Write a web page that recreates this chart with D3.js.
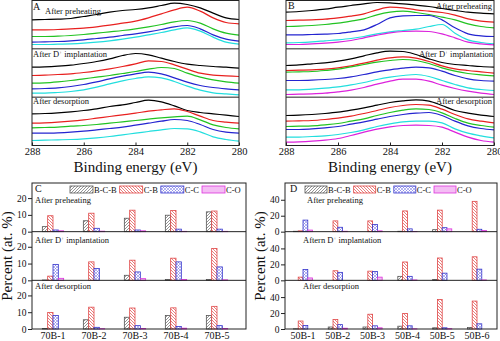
<!DOCTYPE html>
<html><head><meta charset="utf-8">
<script src="https://cdn.jsdelivr.net/npm/d3@7"></script>
<style>
body{margin:0;background:#fff}
svg{display:block}
svg text{font-family:'Liberation Serif','Times New Roman',serif;fill:#111}
</style>
</head><body>
<svg id="chart" width="500" height="341"></svg>
<script>
// ---------------- DATA ----------------
const energies = [288,287.5,287,286.5,286,285.5,285,284.5,284,283.5,283,282.5,282,281.5,281,280.5,280];
const energyTicks = [288,286,284,282,280];
const stageLabels = ["After preheating","After D+ implantation","After desorption"];
const stageLabelsD = ["After preheating","Aftern D+ implantation","After desorption"];

const colorsA = ["#000000","#e8201f","#22c322","#2424d0","#22dede"];
const colorsB = ["#000000","#e8201f","#22c322","#2424d0","#22dede","#dc22dc"];

// Panel A C1s spectra (intensity, a.u.), curves black, red, green, blue, cyan
const A_preheat = [
 [87,88,89,91,97,103,110,115,118,123,130,137,133,123,107,93,88],
 [57,57,58,60,62,66,71,77,83,93,105,117,125,113,93,79,75],
 [37,37,38,40,43,47,51,55,60,66,73,81,85,77,60,47,41],
 [20,21,22,24,27,31,35,40,45,51,58,66,70,60,42,29,23],
 [13,13,14,15,17,20,24,29,35,42,49,57,63,53,35,20,14]
];
const A_implant = [
 [90,91,93,96,101,107,115,125,131,127,117,107,99,95,92,90,87],
 [65,66,68,70,74,79,85,92,100,109,107,97,84,72,66,64,62],
 [42,43,46,50,55,60,65,71,77,84,89,86,72,60,52,46,42],
 [25,26,28,32,38,46,55,63,70,75,70,58,45,35,29,25,22],
 [12,12,14,17,22,30,40,49,56,61,58,47,33,21,13,10,7]
];
const A_desorb = [
 [95,96,98,101,105,110,117,122,129,136,131,119,105,99,95,91,87],
 [67,68,70,73,77,82,87,92,97,103,107,110,102,88,75,70,67],
 [53,54,55,58,60,63,67,71,75,79,83,86,88,77,62,54,50],
 [37,37,38,40,43,47,51,55,61,67,73,78,75,63,48,40,37],
 [15,16,17,18,20,23,27,32,37,42,47,51,50,41,26,18,13]
];
// Panel B spectra: black, red, green, blue, cyan, magenta
const B_preheat = [
 [110,112,115,119,125,130,135,139,138,135,131,127,121,115,110,107,105],
 [85,86,87,89,93,98,105,117,125,123,117,113,109,101,90,83,80],
 [67,68,70,73,77,83,90,102,110,113,109,103,95,87,75,67,63],
 [42,42,43,44,46,51,57,73,93,99,100,100,87,63,45,39,37],
 [18,19,21,24,27,31,37,45,51,55,59,67,73,47,27,19,15],
 [13,13,15,17,20,25,33,41,48,52,53,52,45,33,20,15,12]
];
const B_implant = [
 [95,97,100,103,108,115,124,133,138,137,128,115,104,98,95,92,90],
 [80,81,82,84,88,94,102,111,118,121,117,107,94,85,80,76,72],
 [75,76,77,80,84,91,98,105,110,113,110,101,88,78,71,67,64],
 [50,50,51,53,56,61,68,76,82,87,90,88,78,65,55,50,48],
 [22,22,24,27,31,37,44,53,60,65,68,62,50,38,28,23,20],
 [8,9,10,12,16,21,29,39,48,54,54,48,36,26,18,12,8]
];
const B_desorb = [
 [90,91,93,96,100,106,113,121,129,134,137,133,120,105,97,91,87],
 [73,74,75,78,82,88,96,105,114,120,123,121,109,93,80,73,68],
 [57,58,59,62,66,73,80,90,99,106,110,108,98,81,67,60,55],
 [48,48,50,53,57,64,71,79,87,93,97,99,90,73,59,51,47],
 [25,25,27,29,33,39,47,57,65,71,73,73,68,50,37,29,23],
 [10,11,13,16,21,30,40,49,56,60,61,60,55,40,25,15,10]
];

// Bar charts: series order B-C-B, C-B, C-C, C-O
const seriesNames = ["B-C-B","C-B","C-C","C-O"];
const catsC = ["70B-1","70B-2","70B-3","70B-4","70B-5"];
const catsD = ["50B-1","50B-2","50B-3","50B-4","50B-5","50B-6"];
const C_preheat = [
 [3,6.5,8,9.8,11.8],
 [9.5,11,12.8,12.6,12.3],
 [1,2,1,1.5,1.5],
 [0.5,0.3,0.5,0.2,0.2]
];
const C_implant = [
 [0.2,0,3,0.5,0.5],
 [2.5,11,12,13.2,19],
 [9.5,7,5,11,8],
 [1.2,0,1,0.5,0.3]
];
const C_desorb = [
 [0.3,5.5,7,8,8],
 [9.8,13,12.5,12.6,13.5],
 [8,1,2,1.5,2],
 [0,0.2,0.3,0.5,0.3]
];
const D_preheat = [
 [0.5,0,0,0.5,2.5,0],
 [1,13.5,13.5,26,27,38],
 [14.5,5.5,9,3.5,5,3],
 [2,0.5,1,0.3,3.5,1.5]
];
const D_implant = [
 [0,0,0,5,1,0],
 [4,12,11.5,23,28,29.5],
 [13.5,10,11,5,9,14],
 [3,0,4,0.5,0,0.5]
];
const D_desorb = [
 [0.3,2.5,2.5,3.5,1.5,2],
 [10,12,18.5,19.5,37,35],
 [4.5,5.5,4,4,1.5,6.5],
 [0,1,1.5,0.3,0.5,0]
];
const ticksC = [0,10,20];
const ticksD = [0,20,40];

// ---------------- DRAW ----------------
const FONT = "'Liberation Serif','Times New Roman',serif";
const svg = d3.select("#chart");
const defs = svg.append("defs");
const seriesStroke = ["#555555","#e04848","#3434cc","#dd33dd"];
function pat(id, size, d, color, sw){
  const p = defs.append("pattern").attr("id",id).attr("patternUnits","userSpaceOnUse")
    .attr("width",size).attr("height",size);
  p.append("rect").attr("width",size).attr("height",size).attr("fill","#fff");
  p.append("path").attr("d",d).attr("stroke",color).attr("stroke-width",sw).attr("fill","none");
}
pat("pat0",3,"M-1,1 L1,-1 M0,3 L3,0 M2,4 L4,2","#666",0.7);
pat("pat1",3,"M0,0 L3,3 M-1,2 L1,4 M2,-1 L4,1","#e04848",0.7);
pat("pat2",3,"M0,0 L3,3 M0,3 L3,0","#5a5ae0",0.45);
pat("pat3",2,"M0,1 H2","#e040e0",0.7);

function stageText(g, x, y, str, anchor, fs){
  const t = g.append("text").attr("x",x).attr("y",y).attr("text-anchor",anchor||"start")
    .style("font-size",(fs||8.5)+"px").style("font-family",FONT);
  const parts = str.split("D+");
  if(parts.length===2){
    t.append("tspan").text(parts[0]+"D");
    t.append("tspan").text("+").attr("dy",-3).style("font-size","5px");
    t.append("tspan").text(parts[1]).attr("dy",3);
  } else t.text(str);
  return t;
}

function spectraPanel(opt){
  const g = svg.append("g");
  const x = d3.scaleLinear().domain([288,280]).range([opt.x0,opt.x1]);
  const h = (opt.y1-opt.y0)/3;
  opt.groups.forEach((curves,i)=>{
    const y = d3.scaleLinear().domain([0,145]).range([opt.y0+h*(i+1), opt.y0+h*i]);
    const line = d3.line().x((d,j)=>x(energies[j])).y(d=>y(d)).curve(d3.curveMonotoneX);
    curves.forEach((vals,k)=>{
      g.append("path").attr("d",line(vals)).attr("fill","none")
        .attr("stroke",opt.colors[k]).attr("stroke-width",1.2);
    });
    if(i>0) g.append("line").attr("x1",opt.x0).attr("x2",opt.x1)
      .attr("y1",opt.y0+h*i).attr("y2",opt.y0+h*i).attr("stroke","#222").attr("stroke-width",1);
  });
  g.append("rect").attr("x",opt.x0).attr("y",opt.y0).attr("width",opt.x1-opt.x0)
    .attr("height",opt.y1-opt.y0).attr("fill","none").attr("stroke","#222").attr("stroke-width",1);
  const ax = g.append("g").attr("transform",`translate(0,${opt.y1})`)
    .call(d3.axisBottom(x).tickValues(energyTicks).tickSize(-3).tickSizeOuter(0).tickPadding(2).tickFormat(d3.format("d")));
  ax.attr("font-family",null);
  ax.select(".domain").remove();
  ax.selectAll("text").style("font-size","10.5px").style("font-family",FONT);
  ax.selectAll("line").attr("stroke","#222");
  g.append("text").attr("x",(opt.x0+opt.x1)/2).attr("y",opt.y1+26).attr("text-anchor","middle")
    .style("font-size","15px").style("font-family",FONT).text("Binding energy (eV)");
  return {g,h};
}

// Panel A
const pA = spectraPanel({x0:32,x1:239,y0:0.5,y1:145.5,groups:[A_preheat,A_implant,A_desorb],colors:colorsA});
pA.g.append("text").attr("x",33).attr("y",10).style("font-size","10px").style("font-family",FONT).text("A");
stageText(pA.g,45,14,stageLabels[0]);
stageText(pA.g,33,57,stageLabels[1]);
stageText(pA.g,33,104,stageLabels[2]);

// Panel B
const pB = spectraPanel({x0:286,x1:494,y0:0.5,y1:145.5,groups:[B_preheat,B_implant,B_desorb],colors:colorsB});
pB.g.append("text").attr("x",288).attr("y",9).style("font-size","10px").style("font-family",FONT).text("B");
stageText(pB.g,492,8.5,stageLabels[0],"end");
stageText(pB.g,493,57,stageLabels[1],"end");
stageText(pB.g,492,104,stageLabels[2],"end");

function barPanel(opt){
  const g = svg.append("g");
  const h = (opt.y1-opt.y0)/3;
  const xg = d3.scaleBand().domain(opt.cats).range([opt.bx0,opt.bx1]).paddingInner(opt.pad).paddingOuter(opt.pad/2);
  const xs = d3.scaleBand().domain(seriesNames).range([0,xg.bandwidth()]);
  opt.groups.forEach((data,i)=>{
    const y = d3.scaleLinear().domain([0,opt.yMax]).range([opt.y0+h*(i+1), opt.y0+h*i]);
    data.forEach((vals,s)=>{
      g.selectAll(null).data(vals).enter().append("rect")
        .attr("x",(d,c)=>xg(opt.cats[c])+xs(seriesNames[s]))
        .attr("width",xs.bandwidth())
        .attr("y",d=>y(d))
        .attr("height",d=>y(0)-y(d))
        .attr("fill",`url(#pat${s})`).attr("stroke",seriesStroke[s]).attr("stroke-width",0.8);
    });
    const ay = g.append("g").attr("transform",`translate(${opt.x0},0)`)
      .call(d3.axisLeft(y).tickValues(opt.ticks).tickSize(4).tickSizeOuter(0).tickPadding(1.5));
    ay.attr("font-family",null);
    ay.select(".domain").remove();
    ay.selectAll("text").style("font-size","9.5px").style("font-family",FONT);
    ay.selectAll("line").attr("stroke","#222");
    if(i>0) g.append("line").attr("x1",opt.x0).attr("x2",opt.x1)
      .attr("y1",opt.y0+h*i).attr("y2",opt.y0+h*i).attr("stroke","#222").attr("stroke-width",1);
  });
  g.append("rect").attr("x",opt.x0).attr("y",opt.y0).attr("width",opt.x1-opt.x0)
    .attr("height",opt.y1-opt.y0).attr("fill","none").attr("stroke","#222").attr("stroke-width",1);
  const ax = g.append("g").attr("transform",`translate(0,${opt.y1})`)
    .call(d3.axisBottom(xg).tickSize(0).tickPadding(3));
  ax.attr("font-family",null);
  ax.select(".domain").remove();
  ax.selectAll("text").style("font-size","10px").style("font-family",FONT);
  g.append("text").attr("transform",`translate(${opt.x0-20},${(opt.y0+opt.y1)/2}) rotate(-90)`)
    .attr("text-anchor","middle").style("font-size","15px").style("font-family",FONT).text("Percent (at. %)");
  // legend
  let lx = opt.legendX;
  seriesNames.forEach((s,k)=>{
    g.append("rect").attr("x",lx).attr("y",opt.y0+3).attr("width",opt.sw).attr("height",7)
      .attr("fill",`url(#pat${k})`).attr("stroke",seriesStroke[k]).attr("stroke-width",0.8);
    const t = g.append("text").attr("x",lx+opt.sw+1).attr("y",opt.y0+9.5)
      .style("font-size","8.5px").style("font-family",FONT).text(s);
    lx += opt.sw + 1 + t.node().getComputedTextLength() + 3;
  });
  return {g,h};
}

const pC = barPanel({x0:32,x1:246,y0:183,y1:329,bx0:32.5,bx1:237.5,pad:0.48,cats:catsC,
  groups:[C_preheat,C_implant,C_desorb],yMax:29,ticks:ticksC,legendX:70,sw:23});
pC.g.append("text").attr("x",35).attr("y",192).style("font-size","10px").style("font-family",FONT).text("C");
stageText(pC.g,35,203,stageLabels[0]);
stageText(pC.g,35,242.5,stageLabels[1]);
stageText(pC.g,35,289,stageLabels[2]);

const pD = barPanel({x0:285,x1:497,y0:183,y1:329,bx0:285.6,bx1:494.4,pad:0.45,cats:catsD,
  groups:[D_preheat,D_implant,D_desorb],yMax:61,ticks:ticksD,legendX:305,sw:22});
pD.g.append("text").attr("x",290).attr("y",192).style("font-size","10px").style("font-family",FONT).text("D");
stageText(pD.g,307,203,stageLabelsD[0]);
stageText(pD.g,303,242.5,stageLabelsD[1]);
stageText(pD.g,303,289,stageLabelsD[2]);
</script>
</body></html>
